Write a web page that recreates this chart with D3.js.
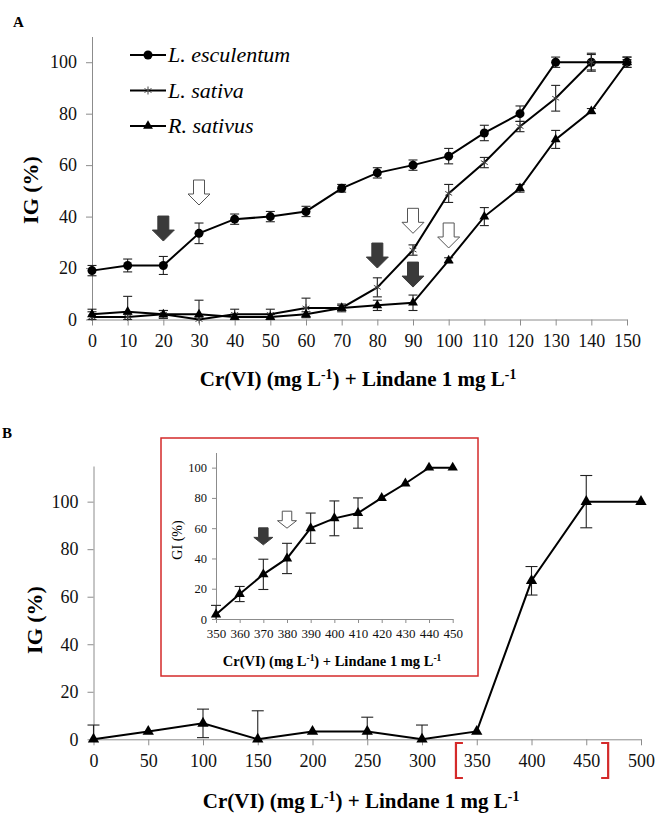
<!DOCTYPE html>
<html>
<head>
<meta charset="utf-8">
<script src="https://cdn.jsdelivr.net/npm/d3@7"></script>
<style>
  body { margin: 0; background: #fff; }
  svg { display: block; font-family: "Liberation Serif", "Times New Roman", serif; }
  .axis path, .axis line { stroke: #8c8c8c; }
  .axis text { fill: #111; }
</style>
</head>
<body>
<svg id="chart" width="659" height="814"></svg>
<script>
// ---- panel A data ----
const concA = [0, 10, 20, 30, 40, 50, 60, 70, 80, 90, 100, 110, 120, 130, 140, 150];
const esculentum    = [19, 21, 21, 33.5, 39, 40, 42, 51, 57, 60, 63.5, 72.5, 80, 100, 100, 100];
const esculentumErr = [2, 2.5, 3.5, 4, 2, 2, 2, 1.5, 2, 2, 3, 3, 3, 2, 3.5, 2];
const sativa        = [1, 1, 2, 0, 2, 2, 4.5, 4.5, 12.5, 27, 49, 61, 75, 86, 100, 100];
const sativaErr     = [2, 1, 1.5, 1, 2, 2, 3.8, 1.5, 3.7, 2, 3.5, 2, 2, 5, 3, 2];
const sativus       = [2, 3, 2, 2, 1, 1, 2, 4.5, 5.5, 6.5, 23, 40, 51, 70, 81, 100];
const sativusErr    = [2, 6, 1.5, 5.5, 1, 1, 1, 1, 2, 3, 1, 3.5, 1.5, 3.5, 1, 1];
const seriesNames = ["L. esculentum", "L. sativa", "R. sativus"];
const yTicksA = [0, 20, 40, 60, 80, 100];
// arrows: concentration, tip value, filled?
const arrowsA = [
  { x: 20, y: 30.5, filled: true },
  { x: 30, y: 44.5, filled: false },
  { x: 80, y: 20, filled: true },
  { x: 90, y: 33.5, filled: false },
  { x: 90, y: 12.6, filled: true },
  { x: 100, y: 27.8, filled: false }
];

// ---- panel B data ----
const concB  = [0, 50, 100, 150, 200, 250, 300, 350, 400, 450, 500];
const igB    = [0, 3.3, 6.7, 0, 3.3, 3.3, 0, 3.3, 66.7, 100, 100];
const igBErr = [6, 0, 6, 12, 0, 6, 6, 0, 6, 11, 0];
const yTicksB = [0, 20, 40, 60, 80, 100];
const bracketRange = [331, 470];

// ---- inset data ----
const concIn  = [350, 360, 370, 380, 390, 400, 410, 420, 430, 440, 450];
const igIn    = [3, 16.5, 29.5, 40, 60, 66.5, 70, 80, 89.5, 100, 100];
const igInErr = [6, 5, 10, 10, 10, 11.5, 10, 0, 0, 0, 0];
const arrowsIn = [
  { x: 370, y: 49, filled: true },
  { x: 380, y: 60, filled: false }
];

const xTitle = "Cr(VI) (mg L<tspan baseline-shift='super' font-size='65%'>-1</tspan>) + Lindane 1 mg L<tspan baseline-shift='super' font-size='65%'>-1</tspan>";

const svg = d3.select("#chart");

function arrowPath(cx, ty, w, h) {
  const sw = w * 0.25, hh = h * 0.44;
  return `M${cx - sw},${ty - h}L${cx + sw},${ty - h}L${cx + sw},${ty - hh}L${cx + w / 2},${ty - hh}` +
         `L${cx},${ty}L${cx - w / 2},${ty - hh}L${cx - sw},${ty - hh}Z`;
}

function drawErrors(g, xs, ys, es, x, y, cap) {
  xs.forEach((cx, i) => {
    if (!es[i]) return;
    const hi = ys[i] + es[i], lo = Math.max(0, ys[i] - es[i]);
    const px = x(cx);
    g.append("line").attr("x1", px).attr("x2", px).attr("y1", y(hi)).attr("y2", y(lo))
      .attr("stroke", "#222").attr("stroke-width", 1.1);
    g.append("line").attr("x1", px - cap).attr("x2", px + cap).attr("y1", y(hi)).attr("y2", y(hi))
      .attr("stroke", "#222").attr("stroke-width", 1.1);
    if (ys[i] - es[i] >= 0) {
      g.append("line").attr("x1", px - cap).attr("x2", px + cap).attr("y1", y(lo)).attr("y2", y(lo))
        .attr("stroke", "#222").attr("stroke-width", 1.1);
    }
  });
}

function drawMarker(g, type, px, py, s) {
  if (type === "circle") {
    g.append("circle").attr("cx", px).attr("cy", py).attr("r", 4.5 * s).attr("fill", "#000");
  } else if (type === "triangle") {
    g.append("path").attr("d", d3.symbol(d3.symbolTriangle, 42 * s * s)())
      .attr("transform", `translate(${px},${py})`).attr("fill", "#000");
  } else {
    const r = 4 * s;
    const a = g.append("g").attr("stroke", "#444").attr("stroke-width", 1);
    a.append("line").attr("x1", px).attr("x2", px).attr("y1", py - r).attr("y2", py + r);
    a.append("line").attr("x1", px - r * 0.87).attr("x2", px + r * 0.87).attr("y1", py - r * 0.5).attr("y2", py + r * 0.5);
    a.append("line").attr("x1", px - r * 0.87).attr("x2", px + r * 0.87).attr("y1", py + r * 0.5).attr("y2", py - r * 0.5);
  }
}

function drawArrows(g, list, x, y, w, h) {
  list.forEach(d => {
    g.append("path").attr("d", arrowPath(x(d.x), y(d.y), w, h))
      .attr("fill", d.filled ? "#3a3a3a" : "#fff")
      .attr("stroke", d.filled ? "#3a3a3a" : "#555")
      .attr("stroke-width", 1);
  });
}

// d3 axes put a sans-serif font on the group, swap it for the serif one
function styleAxis(g, size) {
  g.attr("class", "axis")
    .attr("font-family", "Liberation Serif, Times New Roman, serif")
    .attr("font-size", size);
}

// ================= PANEL A =================
const xA = d3.scaleLinear().domain([0, 150]).range([92, 627]);
const yA = d3.scaleLinear().domain([0, 110]).range([319.5, 36.5]);

svg.append("text").attr("x", 13).attr("y", 27).attr("font-weight", "bold")
  .attr("font-size", 15).text("A");

svg.append("g").attr("transform", `translate(0,${yA(0)})`)
  .call(d3.axisBottom(xA).tickValues(concA).tickSize(6).tickSizeOuter(0).tickPadding(9))
  .call(g => styleAxis(g, 18));
svg.append("g").attr("transform", `translate(${xA(0)},0)`)
  .call(d3.axisLeft(yA).tickValues(yTicksA).tickSize(6).tickSizeOuter(0).tickPadding(9))
  .call(g => styleAxis(g, 18));

svg.append("text").attr("transform", `translate(38,190) rotate(-90)`)
  .attr("text-anchor", "middle").attr("font-weight", "bold").attr("font-size", 22).text("IG (%)");
svg.append("text").attr("x", 358).attr("y", 386).attr("text-anchor", "middle")
  .attr("font-weight", "bold").attr("font-size", 21).html(xTitle);

const gA = svg.append("g");
const seriesA = [
  { v: esculentum, e: esculentumErr, m: "circle" },
  { v: sativa, e: sativaErr, m: "asterisk" },
  { v: sativus, e: sativusErr, m: "triangle" }
];
const lineA = d3.line().x((d, i) => xA(concA[i])).y(d => yA(d));
seriesA.forEach(s => drawErrors(gA, concA, s.v, s.e, xA, yA, 4.5));
seriesA.forEach(s => {
  gA.append("path").datum(s.v).attr("d", lineA).attr("fill", "none")
    .attr("stroke", "#000").attr("stroke-width", 2);
});
seriesA.forEach(s => s.v.forEach((v, i) => drawMarker(gA, s.m, xA(concA[i]), yA(v), 1)));
drawArrows(gA, arrowsA, xA, yA, 22, 25);

// legend
const leg = svg.append("g");
seriesA.forEach((s, i) => {
  const ly = 55 + i * 35.5;
  leg.append("line").attr("x1", 130).attr("x2", 166).attr("y1", ly).attr("y2", ly)
    .attr("stroke", "#000").attr("stroke-width", 2);
  drawMarker(leg, s.m, 148, ly, 1);
  leg.append("text").attr("x", 168).attr("y", ly + 7).attr("font-style", "italic")
    .attr("font-size", 22).text(seriesNames[i]);
});

// ================= PANEL B =================
const xB = d3.scaleLinear().domain([0, 500]).range([93.5, 641]);
const yB = d3.scaleLinear().domain([0, 115]).range([739.3, 466]);

svg.append("text").attr("x", 2).attr("y", 438).attr("font-weight", "bold")
  .attr("font-size", 15).text("B");

svg.append("g").attr("transform", `translate(0,${yB(0)})`)
  .call(d3.axisBottom(xB).tickValues(concB).tickSize(6).tickSizeOuter(0).tickPadding(9))
  .call(g => styleAxis(g, 18));
svg.append("g").attr("transform", `translate(${xB(0)},0)`)
  .call(d3.axisLeft(yB).tickValues(yTicksB).tickSize(6).tickSizeOuter(0).tickPadding(9))
  .call(g => styleAxis(g, 18));

svg.append("text").attr("transform", `translate(42,620) rotate(-90)`)
  .attr("text-anchor", "middle").attr("font-weight", "bold").attr("font-size", 22).text("IG (%)");
svg.append("text").attr("x", 361).attr("y", 808).attr("text-anchor", "middle")
  .attr("font-weight", "bold").attr("font-size", 21).html(xTitle);

const gB = svg.append("g");
drawErrors(gB, concB, igB, igBErr, xB, yB, 6);
gB.append("path").datum(igB)
  .attr("d", d3.line().x((d, i) => xB(concB[i])).y(d => yB(d)))
  .attr("fill", "none").attr("stroke", "#000").attr("stroke-width", 2);
igB.forEach((v, i) => drawMarker(gB, "triangle", xB(concB[i]), yB(v), 1.15));

// red brackets around the zoomed range
const by0 = 743, by1 = 778;
bracketRange.forEach((bx, k) => {
  const px = xB(bx), dir = k === 0 ? 1 : -1;
  svg.append("path")
    .attr("d", `M${px + dir * 7},${by0}L${px},${by0}L${px},${by1}L${px + dir * 7},${by1}`)
    .attr("fill", "none").attr("stroke", "#d42a2a").attr("stroke-width", 2.2);
});

// ================= INSET =================
svg.append("rect").attr("x", 161).attr("y", 438).attr("width", 317).attr("height", 238)
  .attr("fill", "#fff").attr("stroke", "#d42a2a").attr("stroke-width", 1.5);

const xI = d3.scaleLinear().domain([350, 450]).range([216, 452.7]);
const yI = d3.scaleLinear().domain([0, 110]).range([619, 452.5]);

svg.append("g").attr("transform", `translate(0,${yI(0)})`)
  .call(d3.axisBottom(xI).tickValues(concIn).tickSize(4).tickSizeOuter(0).tickPadding(6))
  .call(g => styleAxis(g, 13));
svg.append("g").attr("transform", `translate(${xI(350)},0)`)
  .call(d3.axisLeft(yI).tickValues(yTicksB).tickSize(4).tickSizeOuter(0).tickPadding(5))
  .call(g => styleAxis(g, 12.5));

svg.append("text").attr("transform", `translate(182,540) rotate(-90)`)
  .attr("text-anchor", "middle").attr("font-size", 14).text("GI (%)");
svg.append("text").attr("x", 332).attr("y", 666).attr("text-anchor", "middle")
  .attr("font-weight", "bold").attr("font-size", 14.5).html(xTitle);

const gI = svg.append("g");
drawErrors(gI, concIn, igIn, igInErr, xI, yI, 5);
gI.append("path").datum(igIn)
  .attr("d", d3.line().x((d, i) => xI(concIn[i])).y(d => yI(d)))
  .attr("fill", "none").attr("stroke", "#000").attr("stroke-width", 2);
igIn.forEach((v, i) => drawMarker(gI, "triangle", xI(concIn[i]), yI(v), 1.05));
drawArrows(gI, arrowsIn, xI, yI, 19, 17);
</script>
</body>
</html>
